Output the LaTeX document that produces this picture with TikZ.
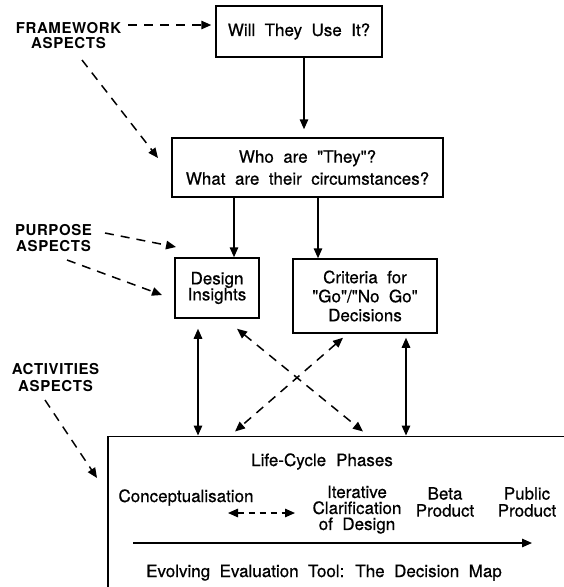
\documentclass[tikz,border=0pt]{standalone}
\usepackage{fontspec}
\setmainfont{TeX Gyre Heros}[WordSpace=2, FakeBold=0.6]
\usetikzlibrary{arrows.meta}
\begin{document}
\begin{tikzpicture}[x=1pt,y=-1pt, line width=1.5pt,
  box/.style={draw, inner sep=0pt, align=center},
  lbl/.style={align=center, inner sep=1pt},
  txt/.style={align=center, inner sep=0pt},
  sar/.style={-{Triangle[length=10pt,width=8.5pt]}},
  dsar/.style={{Triangle[length=10pt,width=8.5pt]}-{Triangle[length=10pt,width=8.5pt]}},
  dsh/.style={dash pattern=on 9pt off 7pt},
  shortdsh/.style={dash pattern=on 6pt off 5pt},
]
\newcommand{\bodyfont}[1]{\fontsize{17}{#1}\selectfont\lineskiplimit=-20pt}
\newcommand{\labelfont}[1]{\fontsize{15}{#1}\selectfont\bfseries\addfontfeature{LetterSpace=4,FakeBold=0}\lineskiplimit=-20pt}
\newcommand{\dq}{\textquotedbl}
\fill[white] (0,0) rectangle (564,587);
\useasboundingbox (0,0) rectangle (564,587);
\clip (0,0) rectangle (564,587);

% boxes
\node[box, minimum width=166pt, minimum height=51pt, font=\bodyfont{19}] (will) at (299,31.5) {Will They Use It?};
\node[box, minimum width=271pt, minimum height=59pt, font=\bodyfont{22}] (who) at (307.5,167.5) {Who are \dq They\dq?\\What are their circumstances?};
\node[box, minimum width=84pt, minimum height=60pt, font=\bodyfont{16}] (design) at (217,288) {Design\\Insights};
\node[box, minimum width=144pt, minimum height=74pt, font=\bodyfont{19}] (criteria) at (365,296) {Criteria for\\\dq Go\dq/\dq No Go\dq\\Decisions};
\node[draw, anchor=north west, minimum width=520pt, minimum height=220pt, inner sep=0pt] (life) at (107,435.5) {};

% labels
\node[lbl, font=\labelfont{15}] (fw) at (68.5,35.5) {FRAMEWORK\\ASPECTS};
\node[lbl, font=\labelfont{16}] (pu) at (53.5,238.5) {PURPOSE\\ASPECTS};
\node[lbl, font=\labelfont{17}] (ac) at (55.5,377.5) {ACTIVITIES\\ASPECTS};

% texts inside the life-cycle box
\node[txt, anchor=base, font=\bodyfont{17}] (lcp) at (322,466) {Life-Cycle\hspace{10pt}Phases};
\node[txt, anchor=base, font=\bodyfont{17}] (concept) at (186,502) {Conceptualisation};
\node[txt, font=\bodyfont{16}] (iter) at (357,509.6) {Iterative\\Clarification\\of Design};
\node[txt, font=\bodyfont{17}] (beta) at (445,502) {Beta\\Product};
\node[txt, font=\bodyfont{17}] (public) at (527,502) {Public\\Product};
\node[txt, anchor=base, font=\bodyfont{17}] (evo) at (324,577) {Evolving Evaluation Tool: The Decision Map};

% free ends
\coordinate (fwA) at (128,25);
\coordinate (fwB) at (82,60);
\coordinate (fwT) at (158,158);
\coordinate (puA) at (105,233);
\coordinate (puT1) at (176,247);
\coordinate (puB) at (67,260);
\coordinate (puT2) at (162,295);
\coordinate (acA) at (45,400);
\coordinate (acT) at (97,478);

% aspect arrows
\draw[dsh, sar, shorten >=4pt] (fwA) -- ([yshift=6.5pt]will.west);
\draw[dsh, sar] (fwB) -- (fwT);
\draw[dsh, sar] (puA) -- (puT1);
\draw[dsh, sar] (puB) -- (puT2);
\draw[dsh, sar] (acA) -- (acT);

% main flow
\draw[sar, shorten >=8pt] ([xshift=5pt]will.south) -- ([xshift=-3.5pt]who.north);
\draw[sar] ([xshift=-73.5pt]who.south) -- ([xshift=17pt]design.north);
\draw[sar] ([xshift=10.5pt]who.south) -- ([xshift=-47pt]criteria.north);
\draw[dsar, shorten <=10pt] ([xshift=-19pt]design.south) -- ([xshift=91pt]life.north west);
\draw[dsar, shorten <=4pt] ([xshift=41pt]criteria.south) -- ([xshift=299pt]life.north west);
\draw[dsh, dsar] ([shift={(20,10)}]design.south) -- ([shift={(256,-4)}]life.north west);
\draw[dsh, dsar] ([shift={(-22,4)}]criteria.south) -- ([shift={(128,-4)}]life.north west);

% inside life-cycle box
\draw[shortdsh, dsar] ([shift={(42,11)}]concept.base) -- ([shift={(-62,3.4)}]iter.center);
\draw[sar] ([shift={(-191,-34)}]evo.base) -- ([shift={(208,-34)}]evo.base);
\end{tikzpicture}
\end{document}
